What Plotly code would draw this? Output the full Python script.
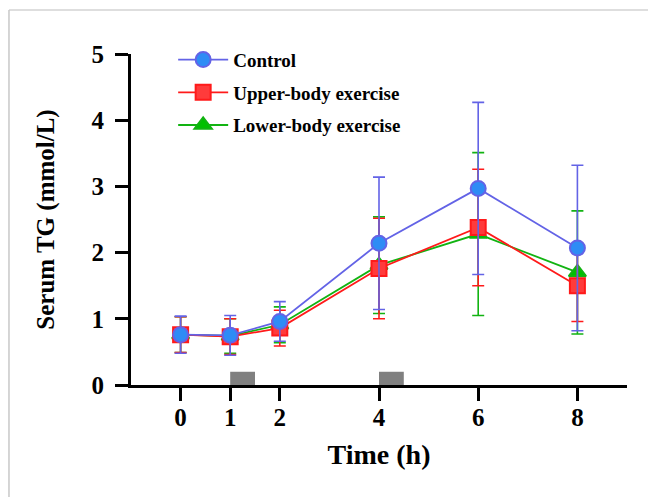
import plotly.graph_objects as go

time_h = [0, 1, 2, 4, 6, 8]
control_mean = [0.76, 0.75, 0.96, 2.14, 2.97, 2.07]
control_sd = [0.28, 0.30, 0.30, 1.00, 1.30, 1.25]
upper_mean = [0.76, 0.73, 0.86, 1.76, 2.38, 1.50]
upper_sd = [0.27, 0.27, 0.27, 0.76, 0.88, 0.54]
lower_mean = [0.76, 0.74, 0.91, 1.81, 2.28, 1.70]
lower_sd = [0.27, 0.26, 0.27, 0.73, 1.23, 0.93]

exercise_start = [1, 4]
exercise_duration = 0.5
exercise_height = 0.2

x_tick_vals = [0, 1, 2, 4, 6, 8]
y_tick_vals = [0, 1, 2, 3, 4, 5]

FONT = "Liberation Serif"

fig = go.Figure()

fig.add_trace(go.Bar(
    x=[s + exercise_duration / 2 for s in exercise_start],
    y=[exercise_height] * len(exercise_start),
    width=[exercise_duration] * len(exercise_start),
    marker=dict(color="#808080", line=dict(width=0)),
    showlegend=False, hoverinfo="skip",
))

series = [
    ("Lower-body exercise", lower_mean, lower_sd, "#12b312", "#00c000", "triangle-up", 15, 3),
    ("Upper-body exercise", upper_mean, upper_sd, "#ff1a1a", "#ff3b3b", "square", 15, 2),
    ("Control", control_mean, control_sd, "#6363e6", "#2e8cf5", "circle", 15, 1),
]

for name, mean, sd, lc, fc, sym, sz, rank in series:
    fig.add_trace(go.Scatter(
        x=time_h, y=mean, name=name, mode="lines+markers",
        legendgroup=name, legendrank=rank,
        line=dict(color=lc, width=1.8),
        marker=dict(symbol=sym, size=sz, color=fc, line=dict(color=lc, width=2)),
        error_y=dict(type="data", array=sd, visible=True, color=lc, thickness=1.6, width=6),
    ))

fig.update_layout(
    width=648, height=497,
    paper_bgcolor="white", plot_bgcolor="white",
    margin=dict(l=131, r=21, t=54, b=112, autoexpand=False),
    barmode="overlay",
    font=dict(family=FONT, color="black"),
    legend=dict(
        x=0.085, y=1.04, xanchor="left", yanchor="top",
        traceorder="grouped", tracegroupgap=5,
        font=dict(family=FONT, size=19, color="black", weight="bold"),
        bgcolor="rgba(0,0,0,0)", itemwidth=50,
    ),
    xaxis=dict(
        range=[-1, 9], tickvals=x_tick_vals, ticktext=[str(v) for v in x_tick_vals],
        showgrid=False, zeroline=False, showline=True, linecolor="black", linewidth=3,
        ticks="outside", ticklen=13, tickwidth=3, tickcolor="black",
        tickfont=dict(family=FONT, size=25, color="black", weight="bold"),
        ticklabelstandoff=-5,
        title=dict(text="Time (h)", font=dict(family=FONT, size=28, color="black", weight="bold"), standoff=15),
    ),
    yaxis=dict(
        range=[0, 5], tickvals=y_tick_vals,
        showgrid=False, zeroline=False, showline=True, linecolor="black", linewidth=3,
        ticks="outside", ticklen=13, tickwidth=3, tickcolor="black",
        tickfont=dict(family=FONT, size=25, color="black", weight="bold"),
        ticklabelstandoff=6,
        title=dict(text="Serum TG (mmol/L)", font=dict(family=FONT, size=25, color="black", weight="bold"), standoff=30),
    ),
    shapes=[
        dict(type="line", xref="paper", yref="paper", x0=-0.246, x1=1.05, y0=1.133, y1=1.133,
             line=dict(color="#d3d3d3", width=1.5)),
        dict(type="line", xref="paper", yref="paper", x0=-0.246, x1=-0.246, y0=-0.35, y1=1.133,
             line=dict(color="#c8c8c8", width=1.5)),
    ],
)

fig.write_html("out.html", config={"displayModeBar": False},
               post_script="document.body.style.margin='0px';")
